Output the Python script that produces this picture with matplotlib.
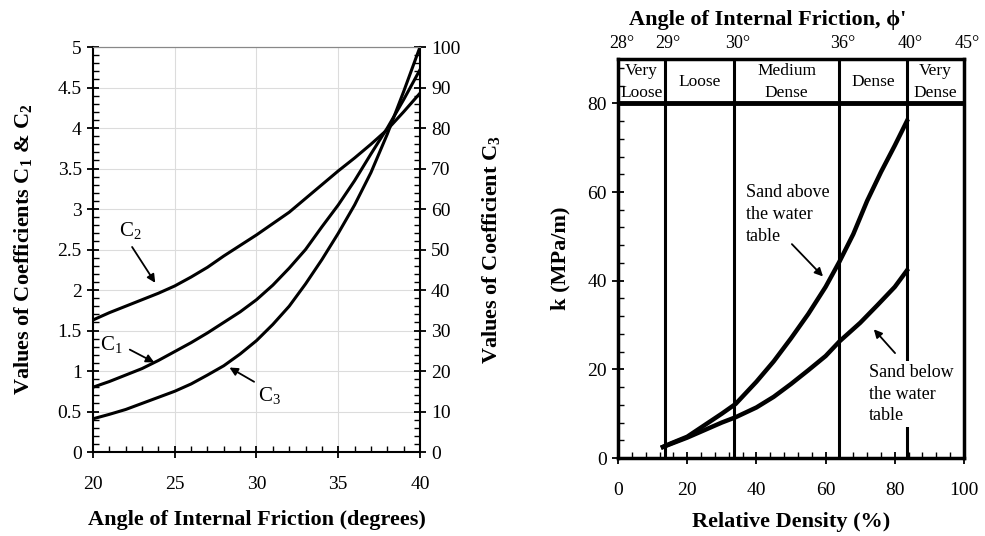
import matplotlib
matplotlib.use("Agg")
import matplotlib.pyplot as plt
from matplotlib.ticker import MultipleLocator
import numpy as np

plt.rcParams['font.family'] = ['Liberation Serif', 'DejaVu Serif']
plt.rcParams['mathtext.fontset'] = 'custom'
plt.rcParams['mathtext.rm'] = 'Liberation Serif'
plt.rcParams['mathtext.it'] = 'Liberation Serif:italic'
plt.rcParams['mathtext.bf'] = 'Liberation Serif:bold'

# ---------------- data: left panel ----------------
phi = [20, 21, 22, 23, 24, 25, 26, 27, 28, 29, 30, 31, 32, 33, 34, 35, 36, 37, 38, 39, 40]
c1 = [0.80, 0.87, 0.95, 1.03, 1.13, 1.24, 1.35, 1.47, 1.60, 1.73, 1.88, 2.06, 2.27,
      2.50, 2.78, 3.05, 3.35, 3.68, 4.00, 4.35, 4.72]
c2 = [1.63, 1.72, 1.80, 1.88, 1.96, 2.05, 2.16, 2.28, 2.42, 2.55, 2.68, 2.82, 2.96,
      3.13, 3.30, 3.47, 3.63, 3.80, 3.98, 4.20, 4.43]
c3 = [8.2, 9.3, 10.5, 12.0, 13.5, 15.0, 16.8, 19.0, 21.3, 24.2, 27.5, 31.5, 36.0,
      41.5, 47.5, 54.0, 61.0, 69.0, 78.5, 89.0, 100.0]

# ---------------- data: right panel ----------------
dr_above = [13, 15, 20, 25, 30, 34, 40, 45, 50, 55, 60, 64, 68, 72, 76, 80, 83.5]
k_above = [2.5, 3.2, 4.8, 7.4, 10.0, 12.2, 17.2, 21.8, 27.0, 32.5, 38.6, 44.3, 50.5,
           58.0, 64.5, 70.5, 76.0]
dr_below = [13, 15, 20, 25, 30, 34, 40, 45, 50, 55, 60, 64, 70, 75, 80, 83.5]
k_below = [2.5, 3.1, 4.6, 6.3, 8.0, 9.2, 11.4, 13.8, 16.7, 19.8, 23.0, 26.3, 30.5,
           34.5, 38.6, 42.3]
boundaries = [13.5, 33.5, 64, 83.5]
band_edges = [0, 13.5, 33.5, 64, 83.5, 100]
angle_labels = ['28°', '29°', '30°', '36°', '40°', '45°']
density_classes = ['Very\nLoose', 'Loose', 'Medium\nDense', 'Dense', 'Very\nDense']

fig = plt.figure(figsize=(9.85, 5.36), dpi=100)

# ================= LEFT PANEL =================
ax = fig.add_axes([0.0944, 0.1567, 0.3320, 0.7556])
ax.set_xlim(20, 40)
ax.set_ylim(0, 5)
ax.xaxis.set_major_locator(MultipleLocator(5))
ax.xaxis.set_minor_locator(MultipleLocator(1))
ax.yaxis.set_major_locator(MultipleLocator(0.5))
ax.yaxis.set_minor_locator(MultipleLocator(0.1))
ax.yaxis.set_major_formatter(matplotlib.ticker.FuncFormatter(lambda v, p: f"{v:g}"))
ax.grid(True, which='major', color='#dcdcdc', lw=0.8)
ax.set_axisbelow(True)
ax.tick_params(which='major', direction='inout', length=9, width=1.3, labelsize=14)
ax.tick_params(which='minor', direction='in', length=4, width=1.0)
ax.tick_params(axis='x', pad=13)
for s in ['left', 'bottom']:
    ax.spines[s].set_linewidth(1.5)
ax.spines['top'].set_color('#888888')
ax.spines['right'].set_visible(False)

ax.plot(phi, c1, color='black', lw=2.2)
ax.plot(phi, c2, color='black', lw=2.2)

ax2 = ax.twinx()
ax2.set_ylim(0, 100)
ax2.yaxis.set_major_locator(MultipleLocator(10))
ax2.yaxis.set_minor_locator(MultipleLocator(2))
ax2.tick_params(which='major', direction='inout', length=9, width=1.3, labelsize=14)
ax2.tick_params(which='minor', direction='in', length=4, width=1.0)
ax2.spines['right'].set_linewidth(1.5)
ax2.spines['top'].set_color('#888888')
ax2.spines['left'].set_visible(False)
ax2.spines['bottom'].set_visible(False)
ax2.plot(phi, c3, color='black', lw=2.2)

ax.set_xlabel('Angle of Internal Friction (degrees)', fontsize=16, fontweight='bold', labelpad=12)
ax.set_ylabel(r'Values of Coefficients C$_\mathbf{1}$ & C$_\mathbf{2}$', fontsize=16,
              fontweight='bold', labelpad=17)
ax2.set_ylabel(r'Values of Coefficient C$_\mathbf{3}$', fontsize=16, fontweight='bold', labelpad=14)

arrow = dict(arrowstyle='-|>', color='black', lw=1.3, mutation_scale=12)
ax.annotate('', xy=(23.9, 2.06), xytext=(22.3, 2.56), arrowprops=arrow)
ax.text(22.3, 2.74, r'C$_2$', fontsize=15, ha='center', va='center')
ax.annotate('', xy=(23.9, 1.09), xytext=(22.1, 1.28), arrowprops=arrow)
ax.text(21.1, 1.33, r'C$_1$', fontsize=15, ha='center', va='center')
ax.annotate('', xy=(28.2, 1.06), xytext=(30.0, 0.85), arrowprops=arrow)
ax.text(30.8, 0.70, r'C$_3$', fontsize=15, ha='center', va='center')

# ================= RIGHT PANEL =================
bx = fig.add_axes([0.6274, 0.1455, 0.3513, 0.7444])
bx.set_xlim(0, 100)
bx.set_ylim(0, 90)
bx.set_xticks([0, 20, 40, 60, 80, 100])
bx.xaxis.set_minor_locator(MultipleLocator(4))
bx.set_yticks([0, 20, 40, 60, 80])
bx.yaxis.set_minor_locator(MultipleLocator(4))
bx.tick_params(which='major', direction='inout', length=9, width=1.3, labelsize=14)
bx.tick_params(which='minor', direction='in', length=4, width=1.0)
bx.tick_params(axis='x', pad=13)
for s in bx.spines.values():
    s.set_linewidth(2.5)

bx.axhline(80, color='black', lw=3.5)
for b in boundaries:
    bx.axvline(b, color='black', lw=2.2)

for i, lab in enumerate(density_classes):
    xc = (band_edges[i] + band_edges[i + 1]) / 2
    bx.text(xc, 84.8, lab, fontsize=12.5, ha='center', va='center', linespacing=1.45)

for xv, lab in zip(band_edges, angle_labels):
    bx.text(xv + 1, 1.04, lab, transform=bx.get_xaxis_transform(), fontsize=13,
            ha='center', va='center')

bx.plot(dr_above, k_above, color='black', lw=3.2)
bx.plot(dr_below, k_below, color='black', lw=3.2)

bx.text(37, 61.7, 'Sand above\nthe water\ntable', fontsize=13, ha='left', va='top',
        linespacing=1.35)
bx.annotate('', xy=(59.8, 40.5), xytext=(49.7, 48.7),
            arrowprops=dict(arrowstyle='-|>', color='black', lw=1.3, mutation_scale=12))
bx.text(72.5, 14.4, 'Sand below\nthe water\ntable', fontsize=13, ha='left', va='center',
        linespacing=1.35, bbox=dict(facecolor='white', edgecolor='none', pad=2))
bx.annotate('', xy=(73.4, 29.5), xytext=(80.6, 23.2),
            arrowprops=dict(arrowstyle='-|>', color='black', lw=1.3, mutation_scale=12))

bx.set_xlabel('Relative Density (%)', fontsize=16, fontweight='bold', labelpad=9)
bx.set_ylabel('k (MPa/m)', fontsize=16, fontweight='bold', labelpad=12)
fig.text(0.779, 0.963, "Angle of Internal Friction, ϕ'", fontsize=16, fontweight='bold',
         ha='center', va='center')

fig.savefig('out.png', dpi=100)
